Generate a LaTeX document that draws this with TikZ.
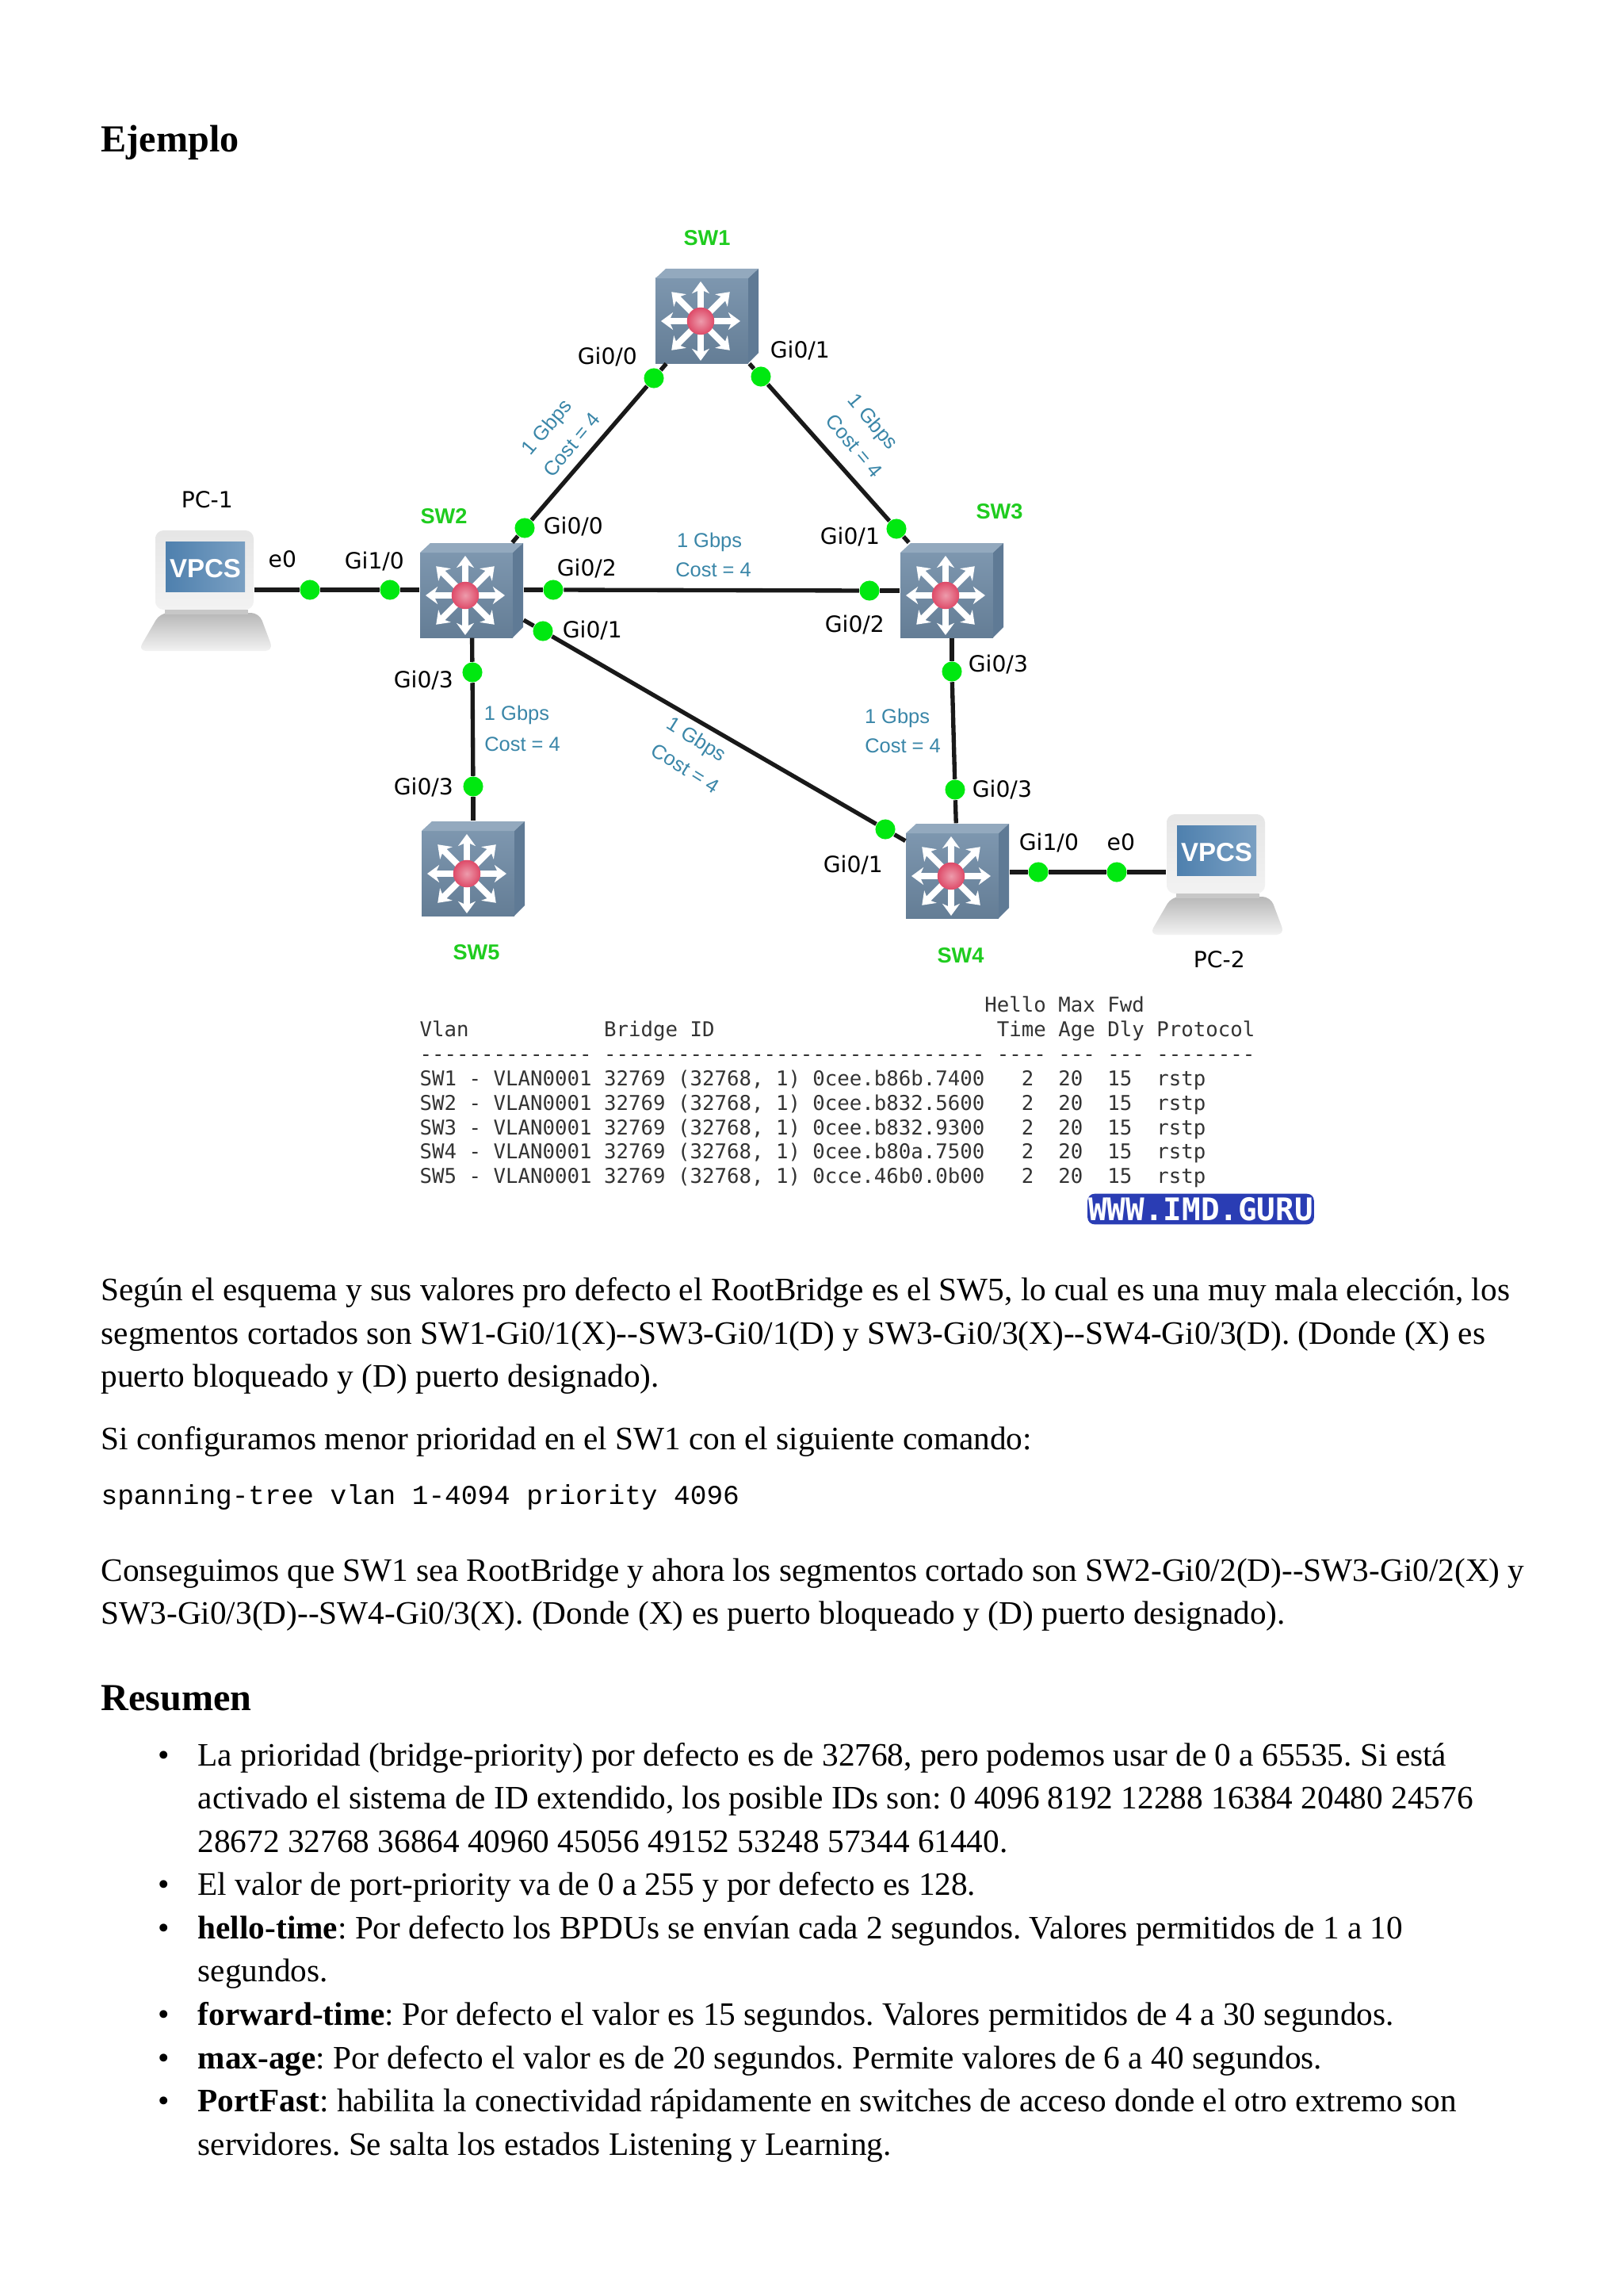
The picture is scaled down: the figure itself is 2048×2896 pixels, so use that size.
\documentclass[tikz,border=0pt]{standalone}
\usepackage{fontspec}
\setmainfont{Liberation Serif}
\setsansfont{Liberation Sans}
\setmonofont{Liberation Mono}
\newfontfamily\labelfont{DejaVu Sans}
\newfontfamily\tablefont{DejaVu Sans Mono}
\usetikzlibrary{arrows.meta}
\frenchspacing
\definecolor{portgreen}{HTML}{00E810}
\definecolor{swgreen}{HTML}{1FCC1F}
\definecolor{costblue}{HTML}{3A86A8}
\definecolor{swfront}{HTML}{6F8BA6}
\definecolor{swtopc}{HTML}{93A9BE}
\definecolor{swsidec}{HTML}{5F7A95}
\definecolor{guru}{HTML}{2A3DB4}
\definecolor{hubred}{HTML}{DE4A68}
\definecolor{scrblue}{HTML}{4E80AE}
\newcommand{\swicon}[3]{%
    \begin{scope}[shift={(#1,#2)}]
        \shade[top color=swfront!90!white,bottom color=swfront!90!black] (-55,-54) rectangle (62,53);
        \fill[swtopc] (-55,-54) -- (-42,-66) -- (75,-66) -- (62,-54) -- cycle;
        \fill[swsidec] (62,-54) -- (75,-66) -- (75,40) -- (62,53) -- cycle;
        \foreach \a in {0,90,180,270}
            \draw[swarrow] (2,0) -- ++(\a:50);
        \foreach \a in {45,135,225,315}
            \draw[swarrow] (2,0) -- ++(\a:52);
        \shade[inner color=hubred!55!white,outer color=hubred] (2,0) circle (5pt);
        \node[swbox] (#3) at (10,-6.5) {};
    \end{scope}}
\newcommand{\pcicon}[3]{%
    \begin{scope}[shift={(#1,#2)}]
        \shade[top color=black!28,bottom color=black!5,rounded corners=3pt] (-56,54) -- (69,54) -- (87,102) -- (-84,102) -- cycle;
        \shade[top color=black!10,bottom color=black!5,rounded corners=3pt] (-62,-50) rectangle (62,50);
        \fill[black!22] (-50,50) rectangle (55,56);
        \shade[left color=scrblue,right color=scrblue!75!white] (-49,-36) rectangle (51,27);
        \node[pcbox] (#3) at (0,0) {};
        \node[pctext] (#3txt) at (1,-2) {VPCS};
    \end{scope}}
\begin{document}
\begin{tikzpicture}[
        x=0.29063pt,
        y=-0.29063pt,
        swarrow/.style={white,line width=2.3pt,-{Stealth[length=4.4pt,width=6.4pt]}},
        swbox/.style={inner sep=0pt,minimum width=37.8pt,minimum height=34.6pt},
        pcbox/.style={inner sep=0pt,minimum width=36pt,minimum height=29pt},
        pctext/.style={inner sep=0pt,white,font=\sffamily\bfseries\fontsize{9.6}{10}\selectfont},
        port/.style={circle,fill=portgreen,inner sep=0pt,minimum size=7.3pt},
        link/.style={line width=1.55pt,black!90},
        swname/.style={inner sep=0pt,yshift=-0.2pt,swgreen,font=\sffamily\bfseries\fontsize{7.9}{9}\selectfont},
        ifname/.style={inner sep=0pt,xshift=0.4pt,yshift=-0.2pt,black,font=\labelfont\fontsize{8.2}{9}\selectfont},
        cost/.style={inner sep=0pt,xshift=0.3pt,yshift=-0.3pt,costblue,font=\sffamily\fontsize{7.4}{9}\selectfont},
        txtline/.style={anchor=base west,inner sep=0pt,font=\fontsize{12}{14}\selectfont},
        headline/.style={anchor=base west,inner sep=0pt,font=\bfseries\fontsize{14}{16}\selectfont},
        cmdline/.style={anchor=base west,inner sep=0pt,font=\ttfamily\fontsize{10}{12}\selectfont},
        tabline/.style={anchor=base west,inner sep=0pt,black!80,font=\tablefont\fontsize{7.48}{9}\selectfont},
        dot/.style={anchor=base,inner sep=0pt,font=\fontsize{12}{14}\selectfont}
    ]
    \useasboundingbox (0,0) rectangle (2048,2896);

    % headings
    \node[headline] (ejemplo) at (127,192) {Ejemplo};
    \node[headline] (resumen) at (127,2157) {Resumen};

    % devices
    \swicon{882}{405}{sw1}
    \swicon{585}{751}{sw2}
    \swicon{1191}{751}{sw3}
    \swicon{1198}{1105}{sw4}
    \swicon{587}{1102}{sw5}
    \pcicon{258}{719}{pc1}
    \pcicon{1534}{1077}{pc2}

    % ports
    \node[port] (pc1e0) at (391,744) {};
    \node[port] (sw2gi10) at (492,744) {};
    \node[port] (sw2gi02) at (698,744) {};
    \node[port] (sw3gi02) at (1097,745) {};
    \node[port] (sw2gi00) at (662,666) {};
    \node[port] (sw1gi00) at (825,477) {};
    \node[port] (sw1gi01) at (960,475) {};
    \node[port] (sw3gi01) at (1131,667) {};
    \node[port] (sw2gi01) at (685,796) {};
    \node[port] (sw4gi01) at (1117,1046) {};
    \node[port] (sw2gi03) at (596,848) {};
    \node[port] (sw5gi03) at (597,992) {};
    \node[port] (sw3gi03) at (1201,847) {};
    \node[port] (sw4gi03) at (1205,996) {};
    \node[port] (sw4gi10) at (1310,1100) {};
    \node[port] (pc2e0) at (1409,1100) {};

    % links
    \draw[link] (pc1e0 -| pc1.east) -- (pc1e0);
    \draw[link] (pc1e0) -- (sw2gi10);
    \draw[link] (sw2gi10) -- (sw2gi10 -| sw2.west);
    \draw[link] (sw2gi02 -| sw2.east) -- (sw2gi02);
    \draw[link] (sw2gi02) -- (sw3gi02);
    \draw[link] (sw3gi02) -- (sw3gi02 -| sw3.west);
    \draw[link] (sw2) -- (sw2gi00);
    \draw[link] (sw2gi00) -- (sw1gi00);
    \draw[link] (sw1gi00) -- (sw1);
    \draw[link] (sw1) -- (sw1gi01);
    \draw[link] (sw1gi01) -- (sw3gi01);
    \draw[link] (sw3gi01) -- (sw3);
    \draw[link] (sw2) -- (sw2gi01);
    \draw[link] (sw2gi01) -- (sw4gi01);
    \draw[link] (sw4gi01) -- (sw4);
    \draw[link] (sw2) -- (sw2gi03);
    \draw[link] (sw2gi03) -- (sw5gi03);
    \draw[link] (sw5gi03) -- (sw5);
    \draw[link] (sw3) -- (sw3gi03);
    \draw[link] (sw3gi03) -- (sw4gi03);
    \draw[link] (sw4gi03) -- (sw4);
    \draw[link] (sw4gi10 -| sw4.east) -- (sw4gi10);
    \draw[link] (sw4gi10) -- (pc2e0);
    \draw[link] (pc2e0) -- (pc2e0 -| pc2.west);

    % device names
    \node[swname] (nsw1) at (892,299) {SW1};
    \node[swname] (nsw2) at (560,650) {SW2};
    \node[swname] (nsw3) at (1261,644) {SW3};
    \node[swname] (nsw4) at (1212,1204) {SW4};
    \node[swname] (nsw5) at (601,1200) {SW5};
    \node[ifname] (npc1) at (260,630) {PC-1};
    \node[ifname] (npc2) at (1537,1210) {PC-2};

    % interface names
    \node[ifname] (lsw1gi00) at (765,449) {Gi0/0};
    \node[ifname] (lsw1gi01) at (1008,441) {Gi0/1};
    \node[ifname] (lpc1e0) at (355,705) {e0};
    \node[ifname] (lsw2gi10) at (471,707) {Gi1/0};
    \node[ifname] (lsw2gi00) at (722,663) {Gi0/0};
    \node[ifname] (lsw2gi02) at (739,716) {Gi0/2};
    \node[ifname] (lsw2gi01) at (746,794) {Gi0/1};
    \node[ifname] (lsw2gi03) at (533,857) {Gi0/3};
    \node[ifname] (lsw5gi03) at (533,992) {Gi0/3};
    \node[ifname] (lsw3gi01) at (1071,676) {Gi0/1};
    \node[ifname] (lsw3gi02) at (1077,787) {Gi0/2};
    \node[ifname] (lsw3gi03) at (1258,837) {Gi0/3};
    \node[ifname] (lsw4gi03) at (1263,995) {Gi0/3};
    \node[ifname] (lsw4gi01) at (1075,1090) {Gi0/1};
    \node[ifname] (lsw4gi10) at (1322,1062) {Gi1/0};
    \node[ifname] (lpc2e0) at (1413,1062) {e0};

    % link costs
    \node[cost,rotate=50] (rate12) at (690,539) {1 Gbps};
    \node[cost,rotate=50] (cost12) at (720,560) {Cost = 4};
    \node[cost,rotate=-50] (rate13) at (1099,532) {1 Gbps};
    \node[cost,rotate=-50] (cost13) at (1077,561) {Cost = 4};
    \node[cost] (rate23) at (894,683) {1 Gbps};
    \node[cost] (cost23) at (899,718) {Cost = 4};
    \node[cost] (rate25) at (651,901) {1 Gbps};
    \node[cost] (cost25) at (658,938) {Cost = 4};
    \node[cost,rotate=-32] (rate24) at (877,933) {1 Gbps};
    \node[cost,rotate=-32] (cost24) at (864,968) {Cost = 4};
    \node[cost] (rate34) at (1131,905) {1 Gbps};
    \node[cost] (cost34) at (1138,940) {Cost = 4};

    % spanning-tree table
    \node[tabline] (row0) at (529,1276) {~~~~~~~~~~~~~~~~~~~~~~~~~~~~~~~~~~~~~~~~~~~~~~Hello~Max~Fwd};
    \node[tabline] (row1) at (529,1307) {Vlan~~~~~~~~~~~Bridge~ID~~~~~~~~~~~~~~~~~~~~~~~Time~Age~Dly~Protocol};
    \node[tabline] (row2) at (529,1338) {--------------~-------------------------------~----~---~---~--------};
    \node[tabline] (row3) at (529,1369) {SW1~-~VLAN0001~32769~(32768,~1)~0cee.b86b.7400~~~2~~20~~15~~rstp};
    \node[tabline] (row4) at (529,1400) {SW2~-~VLAN0001~32769~(32768,~1)~0cee.b832.5600~~~2~~20~~15~~rstp};
    \node[tabline] (row5) at (529,1431) {SW3~-~VLAN0001~32769~(32768,~1)~0cee.b832.9300~~~2~~20~~15~~rstp};
    \node[tabline] (row6) at (529,1461) {SW4~-~VLAN0001~32769~(32768,~1)~0cee.b80a.7500~~~2~~20~~15~~rstp};
    \node[tabline] (row7) at (529,1492) {SW5~-~VLAN0001~32769~(32768,~1)~0cce.46b0.0b00~~~2~~20~~15~~rstp};
    \node[fill=guru,rounded corners=2.5pt,inner sep=0pt,minimum width=83pt,minimum height=11.2pt,text=white,font=\tablefont\bfseries\fontsize{11.4}{12}\selectfont] (guru) at (1515,1525) {WWW.IMD.GURU};

    % body text
    \node[txtline] (t1) at (127,1640) {Según el esquema y sus valores pro defecto el RootBridge es el SW5, lo cual es una muy mala elección, los};
    \node[txtline] (t2) at (127,1695) {segmentos cortados son SW1-Gi0/1(X)-{}-SW3-Gi0/1(D) y SW3-Gi0/3(X)-{}-SW4-Gi0/3(D). (Donde (X) es};
    \node[txtline] (t3) at (127,1749) {puerto bloqueado y (D) puerto designado).};
    \node[txtline] (t4) at (127,1828) {Si configuramos menor prioridad en el SW1 con el siguiente comando:};
    \node[cmdline] (t5) at (127,1897) {spanning-tree vlan 1-4094 priority 4096};
    \node[txtline] (t6) at (127,1994) {Conseguimos que SW1 sea RootBridge y ahora los segmentos cortado son SW2-Gi0/2(D)-{}-SW3-Gi0/2(X) y};
    \node[txtline] (t7) at (127,2048) {SW3-Gi0/3(D)-{}-SW4-Gi0/3(X). (Donde (X) es puerto bloqueado y (D) puerto designado).};

    % summary list
    \node[dot] (b1) at (207,2227) {•};
    \node[txtline] (s1) at (249,2227) {La prioridad (bridge-priority) por defecto es de 32768, pero podemos usar de 0 a 65535. Si está};
    \node[txtline] (s2) at (249,2281) {activado el sistema de ID extendido, los posible IDs son: 0 4096 8192 12288 16384 20480 24576};
    \node[txtline] (s3) at (249,2336) {28672 32768 36864 40960 45056 49152 53248 57344 61440.};
    \node[dot] (b2) at (207,2390) {•};
    \node[txtline] (s4) at (249,2390) {El valor de port-priority va de 0 a 255 y por defecto es 128.};
    \node[dot] (b3) at (207,2445) {•};
    \node[txtline] (s5) at (249,2445) {\textbf{hello-time}: Por defecto los BPDUs se envían cada 2 segundos. Valores permitidos de 1 a 10};
    \node[txtline] (s6) at (249,2499) {segundos.};
    \node[dot] (b4) at (207,2554) {•};
    \node[txtline] (s7) at (249,2554) {\textbf{forward-time}: Por defecto el valor es 15 segundos. Valores permitidos de 4 a 30 segundos.};
    \node[dot] (b5) at (207,2609) {•};
    \node[txtline] (s8) at (249,2609) {\textbf{max-age}: Por defecto el valor es de 20 segundos. Permite valores de 6 a 40 segundos.};
    \node[dot] (b6) at (207,2663) {•};
    \node[txtline] (s9) at (249,2663) {\textbf{PortFast}: habilita la conectividad rápidamente en switches de acceso donde el otro extremo son};
    \node[txtline] (s10) at (249,2718) {servidores. Se salta los estados Listening y Learning.};
\end{tikzpicture}
\end{document}
